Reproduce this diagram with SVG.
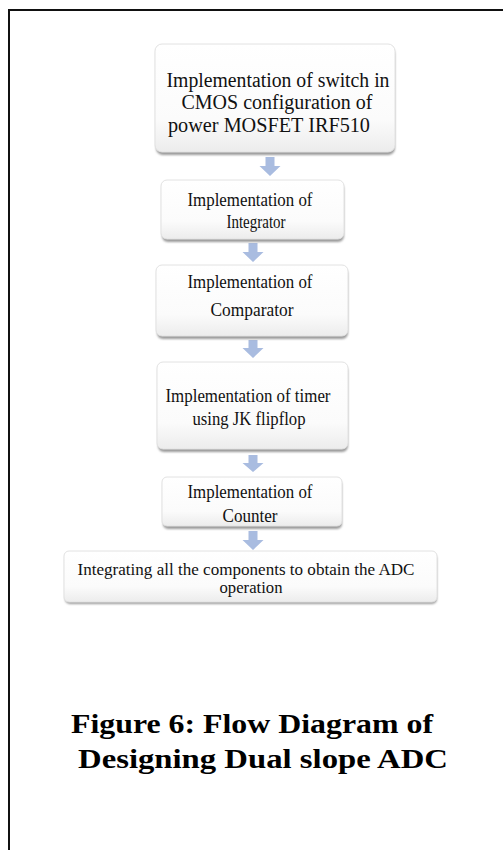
<svg xmlns="http://www.w3.org/2000/svg" width="503" height="850" viewBox="0 0 503 850">
<defs>
<linearGradient id="boxg" x1="0" y1="0" x2="0" y2="1">
<stop offset="0" stop-color="#ffffff"/>
<stop offset="0.7" stop-color="#fbfbfb"/>
<stop offset="1" stop-color="#ececec"/>
</linearGradient>
<filter id="sh" x="-5%" y="-10%" width="110%" height="130%">
<feGaussianBlur stdDeviation="1.2"/>
</filter>
</defs>
<style>
.box{fill:url(#boxg);stroke:#e2e2e2;stroke-width:1}
.shadow{fill:#9a9a9a;filter:url(#sh)}
.t{font-family:"Liberation Serif","Times New Roman",Times,serif;fill:#111;text-anchor:middle}
.arrow{fill:#a9bce0}
.cap{font-family:"Liberation Serif","Times New Roman",Times,serif;font-weight:700;fill:#000;font-size:28px}
</style>
<rect width="503" height="850" fill="#fff"/>
<path d="M9,850 V10 H503" fill="none" stroke="#111" stroke-width="2"/>

<g id="connectors">
<path class="arrow" d="M265.5,157 h9 v9 h6 l-10.5,10 l-10.5,-10 h6 z"/>
<path class="arrow" d="M248.5,243 h9 v9 h6 l-10.5,10 l-10.5,-10 h6 z"/>
<path class="arrow" d="M248.5,340 h9 v8 h6 l-10.5,10 l-10.5,-10 h6 z"/>
<path class="arrow" d="M248.5,455 h9 v8 h6 l-10.5,9 l-10.5,-9 h6 z"/>
<path class="arrow" d="M248.5,531 h9 v9 h6 l-10.5,10 l-10.5,-10 h6 z"/>
</g>

<g id="n1">
<rect class="shadow" x="156" y="47" width="239" height="108" rx="7"/>
<rect class="box" x="155" y="44" width="240" height="108" rx="7"/>
<text class="t" font-size="20" x="278" y="87" textLength="223" lengthAdjust="spacingAndGlyphs">Implementation of switch in</text>
<text class="t" font-size="20" x="277" y="109" textLength="191" lengthAdjust="spacingAndGlyphs">CMOS configuration of</text>
<text class="t" font-size="20" x="269" y="132" textLength="202" lengthAdjust="spacingAndGlyphs">power MOSFET IRF510</text>
</g>

<g id="n2">
<rect class="shadow" x="162" y="183" width="182" height="59" rx="6"/>
<rect class="box" x="161" y="180" width="183" height="59" rx="6"/>
<text class="t" font-size="19" x="250" y="206" textLength="125" lengthAdjust="spacingAndGlyphs">Implementation of</text>
<text class="t" font-size="19" x="256" y="228" textLength="59" lengthAdjust="spacingAndGlyphs">Integrator</text>
</g>

<g id="n3">
<rect class="shadow" x="157" y="268" width="191" height="71" rx="6"/>
<rect class="box" x="156" y="265" width="192" height="71" rx="6"/>
<text class="t" font-size="19" x="250" y="288" textLength="125" lengthAdjust="spacingAndGlyphs">Implementation of</text>
<text class="t" font-size="19" x="252" y="316" textLength="83" lengthAdjust="spacingAndGlyphs">Comparator</text>
</g>

<g id="n4">
<rect class="shadow" x="158" y="365" width="190" height="87" rx="6"/>
<rect class="box" x="157" y="362" width="191" height="87" rx="6"/>
<text class="t" font-size="19" x="248" y="402" textLength="165" lengthAdjust="spacingAndGlyphs">Implementation of timer</text>
<text class="t" font-size="19" x="249" y="425" textLength="113" lengthAdjust="spacingAndGlyphs">using JK flipflop</text>
</g>

<g id="n5">
<rect class="shadow" x="163" y="480" width="179" height="49" rx="5"/>
<rect class="box" x="162" y="477" width="180" height="49" rx="5"/>
<text class="t" font-size="19" x="250" y="498" textLength="125" lengthAdjust="spacingAndGlyphs">Implementation of</text>
<text class="t" font-size="19" x="250" y="522" textLength="55" lengthAdjust="spacingAndGlyphs">Counter</text>
</g>

<g id="n6">
<rect class="shadow" x="65" y="554" width="372" height="50" rx="5"/>
<rect class="box" x="64" y="551" width="373" height="51" rx="5"/>
<text class="t" font-size="16.5" x="246" y="575" textLength="337" lengthAdjust="spacingAndGlyphs">Integrating all the components to obtain the ADC</text>
<text class="t" font-size="16.5" x="251" y="593" textLength="63" lengthAdjust="spacingAndGlyphs">operation</text>
</g>

<g id="caption">
<text class="cap" x="71" y="733" textLength="362" lengthAdjust="spacingAndGlyphs">Figure 6: Flow Diagram of</text>
<text class="cap" x="78" y="768" textLength="370" lengthAdjust="spacingAndGlyphs">Designing Dual slope ADC</text>
</g>
</svg>
